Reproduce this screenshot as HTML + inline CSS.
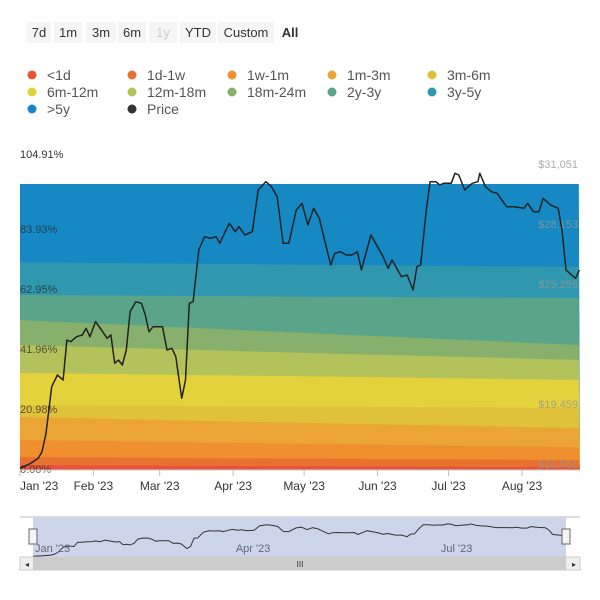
<!DOCTYPE html>
<html><head><meta charset="utf-8"><style>
body{margin:0;background:#fff;width:600px;height:600px;overflow:hidden;font-family:"Liberation Sans",sans-serif}
svg{display:block}
</style></head><body>
<svg id="c" width="600" height="600" xmlns="http://www.w3.org/2000/svg"></svg>
<script>
const labels=['<1d','1d-1w','1w-1m','1m-3m','3m-6m','6m-12m','12m-18m','18m-24m','2y-3y','3y-5y','>5y'];
const colors=['#e5533a','#e8712f','#ef8f2e','#eaa535','#e0c23a','#e3d23b','#b3c25a','#86b06c','#5aa58a','#2f97ae','#1689c4'];
const bandDays=[0,118,236];
// cumulative top boundary (%) of each band at bandDays
const cumStart=[1.7,4.5,10.5,18.5,22.7,33.9,43.7,52.4,61.2,72.7,100];
const cumMid=[1.3,4.0,9.2,16.5,22.2,32.8,41.0,48.0,60.6,71.8,100];
const cumEnd=[1.0,3.5,8.0,14.7,21.7,31.5,38.5,43.7,60.1,71.0,100];
const priceDays=[0,4.5,7.7,9.3,11,13.4,15.8,18.2,19.8,21.4,23.9,26.3,27.9,29.5,31.9,34.4,36.8,38.4,40,41.6,43.2,44.9,46.5,48.9,51.3,52.9,54.5,56.2,57.8,60.2,62.1,64.2,65.8,68.3,69.9,71.5,73.1,75.5,77.9,80.4,82.8,84.4,86,88.4,90.9,92.5,94.9,98.1,100.6,103.8,106.2,108.6,111.1,113.5,116.7,119.1,121.6,124,126.4,128.8,131.2,132.9,135.3,137.7,140.1,142.5,144.2,148.2,150.6,153,155.5,157.1,161.1,163.5,166,167.6,169.2,171.6,173.2,175.6,177.3,178.9,182.1,183.7,185.3,187.8,191,193.4,194.2,196.6,199.1,201.5,205.5,208.8,212.8,214.4,216.8,219.2,220.9,224.1,227.3,228.9,230.6,233,234.6,236.2];
const prices=[16351,16593,16834,17157,18042,20296,20860,20618,22550,22470,22711,22792,23113,22711,23435,23033,22630,22792,21423,21584,21343,22067,23918,24402,24321,23758,22953,23194,23194,23194,22067,22148,21745,19732,20618,24321,24402,26897,27541,27461,27541,27219,27622,28185,27783,28024,27622,27783,29795,30197,29956,29473,27219,27219,28829,29151,28105,28910,28427,27300,26173,26736,26817,26656,26656,26817,25931,27622,27138,26656,26011,26414,25609,25690,24965,26092,26173,28829,30197,30197,30036,30117,30117,30600,30520,29795,30117,30197,30600,29956,29715,29634,28990,28990,28910,29151,28749,28749,29393,29071,28910,27863,25931,25690,25529,25931];
const pctTicks=['0.00%','20.98%','41.96%','62.95%','83.93%','104.91%'];
const pctVals=[0,20.98,41.96,62.95,83.93,104.91];
const priceTicks=[16561,19459,25255,28153,31051];
const monthLabels=["Jan '23","Feb '23","Mar '23","Apr '23","May '23","Jun '23","Jul '23","Aug '23"];
const monthDays=[0,31,59,90,120,151,181,212];

const NS='http://www.w3.org/2000/svg',svg=document.getElementById('c');
const L=20,R=580,T=184,B=470,D=236.5;
const xs=d=>L+(R-L)*d/D;
const yp=p=>B-(B-T)*p/100;
const yPrice=v=>T+(30085-v)/48.3;
function el(t,a,parent){const e=document.createElementNS(NS,t);for(const k in a)e.setAttribute(k,a[k]);(parent||svg).appendChild(e);return e;}
function txt(x,y,s,a){const e=el('text',Object.assign({x:x,y:y,'font-size':12,fill:'#333'},a||{}));e.textContent=s;return e;}

// range buttons
const btns=[['7d',27,24],['1m',54,28],['3m',86,30],['6m',118,28],['1y',149,28],['YTD',180,36],['Custom',218,56],['All',276,28]];
btns.forEach((b,i)=>{
 const g=el('g',{});
 
 
 el('rect',{x:b[1],y:22,width:b[2],height:21,fill:b[0]=='All'?'#fff':'#f5f5f5'},g);
 const t=txt(b[1]+b[2]/2,37,b[0],{'text-anchor':'middle','font-size':13,fill:b[0]=='1y'?'#ccc':'#333','font-weight':b[0]=='All'?'bold':'normal'});
 g.appendChild(t);
});

// legend
const legItems=labels.concat(['Price']);const legCols=colors.concat(['#333']);
legItems.forEach((s,i)=>{
 const g=el('g',{});
 
 
 const cx=32+(i%5)*100,cy=75+Math.floor(i/5)*17;
 el('circle',{cx:cx,cy:cy,r:4.5,fill:legCols[i]},g);
 g.appendChild(txt(cx+15,cy+5,s,{'font-size':14,fill:'#555'}));
});

// bands
const bandsG=el('g',{});


const cums=[cumStart,cumMid,cumEnd];
for(let i=labels.length-1;i>=0;i--){
 let pts=bandDays.map((d,j)=>xs(d).toFixed(1)+','+yp(cums[j][i]).toFixed(1));
 pts.push(R+','+B,L+','+B);
 const p=el('polygon',{points:pts.join(' '),fill:colors[i]},bandsG);
 
 
}
// axes labels
pctVals.forEach((v,i)=>{const t=txt(20,yp(v)-(i==5?12:-3),pctTicks[i],{'font-size':11,fill:i==5?'#333':'rgba(40,40,40,0.75)'});
 });
priceTicks.forEach(v=>{const t=txt(578,yPrice(v)+4,'$'+v.toLocaleString('en-US'),{'font-size':11,'text-anchor':'end',fill:'rgba(150,150,150,0.8)'});
 });
monthLabels.forEach((m,i)=>{const x=xs(monthDays[i]);
 el('line',{x1:x,x2:x,y1:B,y2:B+6,stroke:'#bbb'});
 const t=txt(i==0?x:x,B+20,m,{'font-size':12,'text-anchor':i==0?'start':'middle',fill:'#333'});
 });
el('line',{x1:L,x2:R,y1:B,y2:B,stroke:'#ccc'});

// price line
const pl=el('polyline',{points:priceDays.map((d,i)=>xs(d).toFixed(1)+','+yPrice(prices[i]).toFixed(1)).join(' '),fill:'none',stroke:'#222','stroke-width':1.5,'stroke-linejoin':'round'});


// navigator
const nav=el('g',{});


el('line',{x1:20,x2:580,y1:517,y2:517,stroke:'#bbb'},nav);
el('rect',{x:33,y:517,width:533,height:40,fill:'#cdd5ea'},nav);
const nx=d=>33+533*d/D,ny=v=>557-(v-16000)/15000*34;
el('polyline',{points:priceDays.map((d,i)=>nx(d).toFixed(1)+','+ny(prices[i]).toFixed(1)).join(' '),fill:'none',stroke:'#333','stroke-width':1},nav);
[["Jan '23",0],["Apr '23",90],["Jul '23",181]].forEach(a=>{const t=txt(nx(a[1])+(a[1]?0:2),552,a[0],{'font-size':11,fill:'#667'});nav.appendChild(t);});
[33,566].forEach(x=>{const h=el('rect',{x:x-4,y:529,width:8,height:15,fill:'#f4f4f4',stroke:'#666'},nav);
 });
const sb=el('g',{});


el('rect',{x:20,y:557,width:560,height:13,fill:'#eee',stroke:'#ccc'},sb);
el('rect',{x:33,y:557,width:533,height:13,fill:'#ccc'},sb);
txt(300,567,'III',{'font-size':8,'text-anchor':'middle',fill:'#333'});
txt(25,567,'◂',{'font-size':8,fill:'#333'});txt(572,567,'▸',{'font-size':8,fill:'#333'});
</script>
</body></html>
